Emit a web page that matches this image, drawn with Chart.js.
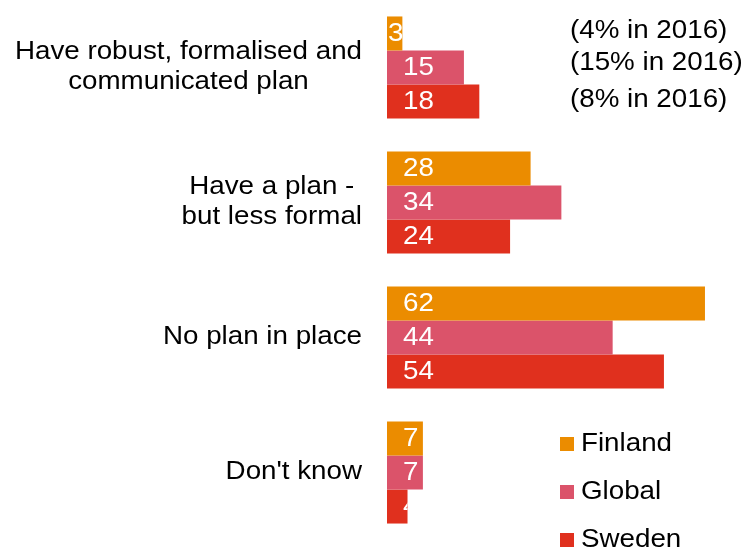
<!DOCTYPE html>
<html>
<head>
<meta charset="utf-8">
<script src="https://cdn.jsdelivr.net/npm/chart.js@4/dist/chart.umd.min.js"></script>
<style>
  html,body{margin:0;padding:0;background:#fff;}
  #wrap{width:746px;height:550px;position:relative;}
</style>
</head>
<body>
<div id="wrap"><canvas id="c"></canvas></div>
<script>
/* ===== datos ===== */
const categories=[
  ['Have robust, formalised and','communicated plan'],
  ['Have a plan -','but less formal'],
  'No plan in place',
  "Don't know"
];
const finland=[3,28,62,7];
const global=[15,34,44,7];
const sweden=[18,24,54,4];
const notes2016=['(4% in 2016)','(15% in 2016)','(8% in 2016)'];
const seriesNames=['Finland','Global','Sweden'];

const COLORS=['#EB8C00','#DB536A','#E0301E'];
const FONT='"Liberation Sans", Arial, sans-serif';
const FS=25;
const SX=1.11; // texto algo ensanchado

// dibuja texto con escala horizontal
function txt(ctx,t,x,y,align){
  ctx.save();
  ctx.translate(x,y);
  ctx.scale(SX,1);
  ctx.textAlign=align;
  ctx.fillText(t,0,0);
  ctx.restore();
}

// etiquetas de categoría: bloque alineado a la derecha, líneas centradas
const catLabels={
  id:'catLabels',
  afterDraw(chart){
    const ctx=chart.ctx, y=chart.scales.y;
    const right=362, lh=30;
    ctx.save();
    ctx.font=`${FS}px ${FONT}`;
    ctx.fillStyle='#000';
    ctx.textBaseline='middle';
    chart.data.labels.forEach((lab,i)=>{
      const lines=Array.isArray(lab)?lab:[lab];
      const w=Math.max(...lines.map(l=>ctx.measureText(l).width))*SX;
      const cx=right-w/2;
      const cy=y.getPixelForValue(i);
      lines.forEach((l,k)=>txt(ctx,l,cx,cy+(k-(lines.length-1)/2)*lh,'center'));
    });
    ctx.restore();
  }
};

// valores dentro de las barras
const barValues={
  id:'barValues',
  afterDatasetsDraw(chart){
    const ctx=chart.ctx;
    ctx.save();
    ctx.font=`${FS}px ${FONT}`;
    ctx.fillStyle='#fff';
    ctx.textBaseline='middle';
    chart.data.datasets.forEach((ds,di)=>{
      chart.getDatasetMeta(di).data.forEach((bar,i)=>{
        const base=bar.base, end=bar.x, h=bar.height;
        let x=base+16;
        if(x>=end)x=base+1;
        ctx.save();
        ctx.beginPath();
        ctx.rect(base,bar.y-h/2,end-base,h);
        ctx.clip();
        txt(ctx,String(ds.data[i]),x,bar.y+1,'left');
        ctx.restore();
      });
    });
    ctx.restore();
  }
};

// notas 2016 junto al primer grupo
const notes={
  id:'notes',
  afterDraw(chart){
    const ctx=chart.ctx;
    ctx.save();
    ctx.font=`${FS}px ${FONT}`;
    ctx.fillStyle='#000';
    ctx.textBaseline='middle';
    const dy=[-2,-4,-1];
    notes2016.forEach((t,di)=>{
      const bar=chart.getDatasetMeta(di).data[0];
      txt(ctx,t,570,bar.y+dy[di],'left');
    });
    ctx.restore();
  }
};

// leyenda abajo a la derecha
const legendBox={
  id:'legendBox',
  afterDraw(chart){
    const ctx=chart.ctx;
    ctx.save();
    ctx.font=`${FS}px ${FONT}`;
    ctx.textBaseline='middle';
    chart.data.datasets.forEach((ds,i)=>{
      const cy=444+i*48;
      ctx.fillStyle=ds.backgroundColor;
      ctx.fillRect(560,cy-7,14,14);
      ctx.fillStyle='#000';
      txt(ctx,ds.label,581,cy,'left');
    });
    ctx.restore();
  }
};

const mk=(i,data)=>({label:seriesNames[i],data,backgroundColor:COLORS[i],borderWidth:0,
  categoryPercentage:0.756,barPercentage:1});

new Chart(document.getElementById('c'),{
  type:'bar',
  data:{labels:categories,datasets:[mk(0,finland),mk(1,global),mk(2,sweden)]},
  options:{
    indexAxis:'y',
    responsive:true,maintainAspectRatio:false,animation:false,
    layout:{padding:{left:387,right:0,top:0,bottom:10}},
    plugins:{legend:{display:false},tooltip:{enabled:false}},
    scales:{
      x:{display:false,min:0,max:70},
      y:{display:false}
    }
  },
  plugins:[catLabels,barValues,notes,legendBox]
});
</script>
</body>
</html>
